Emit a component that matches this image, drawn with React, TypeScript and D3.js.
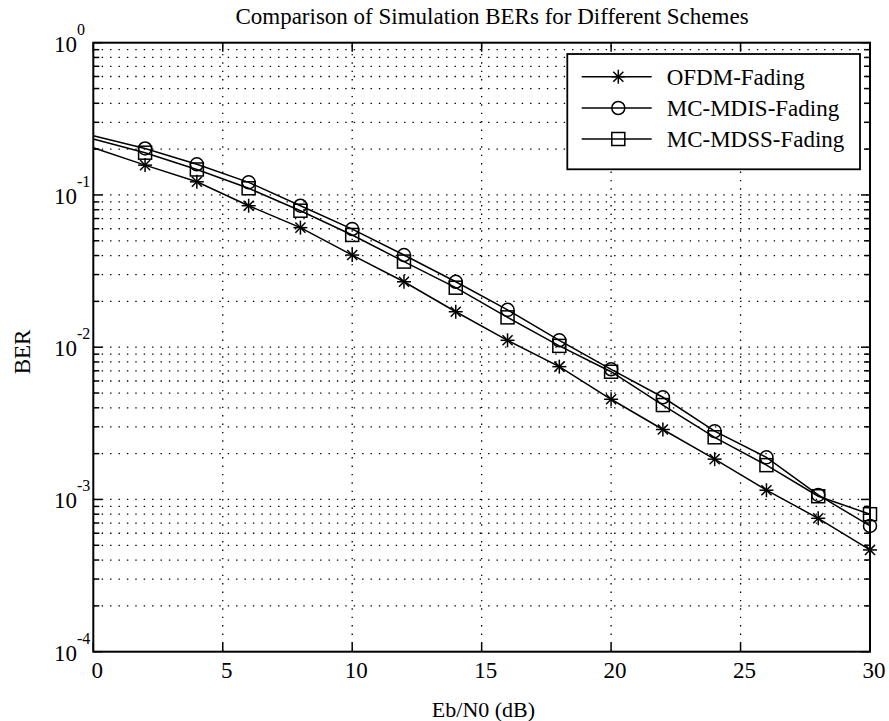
import React from "react";
import * as d3 from "d3";

const snr = [0, 2, 4, 6, 8, 10, 12, 14, 16, 18, 20, 22, 24, 26, 28, 30];
const ofdm = [0.204, 0.157, 0.122, 0.085, 0.061, 0.0403, 0.0269, 0.0171, 0.0111, 0.00745, 0.00455, 0.00288, 0.00184, 0.00115, 0.000752, 0.000466];
const mdis = [0.245, 0.202, 0.159, 0.121, 0.085, 0.0597, 0.0403, 0.0269, 0.0176, 0.0111, 0.00716, 0.00469, 0.00281, 0.00189, 0.00107, 0.00067];
const mdss = [0.233, 0.1895, 0.147, 0.1106, 0.0788, 0.0546, 0.0365, 0.0246, 0.0157, 0.0102, 0.0069, 0.00417, 0.00256, 0.00168, 0.00105, 0.0008];
const seriesNames = ["OFDM-Fading", "MC-MDIS-Fading", "MC-MDSS-Fading"];
const markerTypes = ["star", "circle", "square"];
const xTicks = [0, 5, 10, 15, 20, 25, 30];
const yExponents = [0, -1, -2, -3, -4];
const title = "Comparison of Simulation BERs for Different Schemes";
const xLabel = "Eb/N0 (dB)";
const yLabel = "BER";

const W = 889, H = 721;
const L = 93.3, R = 870, T = 42.7, B = 651.7;
const FONT = "'Liberation Serif', 'Times New Roman', serif";

function Marker({ type, x, y }: { type: string; x: number; y: number }) {
  if (type === "circle") return <circle cx={x} cy={y} r={6.5} fill="none" stroke="#000" strokeWidth={1.5} />;
  if (type === "square") return <rect x={x - 6.5} y={y - 6.5} width={13} height={13} fill="none" stroke="#000" strokeWidth={1.5} />;
  const r = 7;
  const d = r * 0.72;
  return (
    <g stroke="#000" strokeWidth={1.5}>
      <line x1={x} y1={y - r} x2={x} y2={y + r} />
      <line x1={x - r} y1={y} x2={x + r} y2={y} />
      <line x1={x - d} y1={y - d} x2={x + d} y2={y + d} />
      <line x1={x - d} y1={y + d} x2={x + d} y2={y - d} />
    </g>
  );
}

export default function App() {
  const x = d3.scaleLinear().domain([0, 30]).range([L, R]);
  const y = d3.scaleLog().domain([1e-4, 1]).range([B, T]);
  const allSeries = [ofdm, mdis, mdss];
  const line = d3.line<number>().x((_, i) => x(snr[i])).y((v) => y(v));

  const minor: number[] = [];
  for (let e = -4; e < 0; e++) for (let m = 2; m <= 9; m++) minor.push(m * Math.pow(10, e));
  const majors = yExponents.map((e) => Math.pow(10, e));

  const dash = "1.4,7";
  const legendRows = [76.7, 108, 139];

  return (
    <svg width={W} height={H} style={{ position: "absolute", left: 0, top: 0, background: "#fff" }} fontFamily={FONT}>
      <rect x={0} y={0} width={W} height={H} fill="#fff" />
      <g stroke="#000" strokeWidth={1.3} strokeDasharray={dash}>
        {xTicks.slice(1, -1).map((t) => (
          <line key={"gx" + t} x1={x(t)} x2={x(t)} y1={B} y2={T} />
        ))}
        {[...minor, ...majors.slice(1, -1)].map((v, i) => (
          <line key={"gy" + i} x1={L} x2={R} y1={y(v)} y2={y(v)} />
        ))}
      </g>
      <g stroke="#000" strokeWidth={1.5}>
        {xTicks.map((t) => (
          <g key={"tx" + t}>
            <line x1={x(t)} x2={x(t)} y1={B} y2={B - 9} />
            <line x1={x(t)} x2={x(t)} y1={T} y2={T + 9} />
          </g>
        ))}
        {majors.map((v, i) => (
          <g key={"ty" + i}>
            <line x1={L} x2={L + 9} y1={y(v)} y2={y(v)} />
            <line x1={R} x2={R - 9} y1={y(v)} y2={y(v)} />
          </g>
        ))}
        {minor.map((v, i) => (
          <g key={"tm" + i}>
            <line x1={L} x2={L + 6} y1={y(v)} y2={y(v)} />
            <line x1={R} x2={R - 6} y1={y(v)} y2={y(v)} />
          </g>
        ))}
      </g>
      {allSeries.map((s, si) => (
        <g key={"s" + si}>
          <path d={line(s) || ""} fill="none" stroke="#000" strokeWidth={1.5} />
          {s.map((v, i) =>
            i === 0 ? null : <Marker key={i} type={markerTypes[si]} x={x(snr[i])} y={y(v)} />
          )}
        </g>
      ))}
      <rect x={L} y={T} width={R - L} height={B - T} fill="none" stroke="#000" strokeWidth={2} />
      {xTicks.map((t) => (
        <text key={"lx" + t} x={x(t) + 4} y={678} textAnchor="middle" fontSize={23}>
          {t}
        </text>
      ))}
      {yExponents.map((e) => (
        <text key={"ly" + e} x={54} y={y(Math.pow(10, e)) + 9} fontSize={23}>
          10
          <tspan dy={-17} fontSize={16}>{e === 0 ? "0" : "-" + Math.abs(e)}</tspan>
        </text>
      ))}
      <text x={492} y={24} textAnchor="middle" fontSize={23}>{title}</text>
      <text x={483.5} y={717} textAnchor="middle" fontSize={22}>{xLabel}</text>
      <text transform={`translate(30,352) rotate(-90)`} textAnchor="middle" fontSize={23}>{yLabel}</text>
      <rect x={567.3} y={54} width={292.7} height={115.3} fill="#fff" stroke="#000" strokeWidth={1.8} />
      {seriesNames.map((n, i) => (
        <g key={"lg" + i}>
          <line x1={581.7} x2={651.7} y1={legendRows[i]} y2={legendRows[i]} stroke="#000" strokeWidth={1.5} />
          <Marker type={markerTypes[i]} x={618.3} y={legendRows[i]} />
          <text x={666.7} y={legendRows[i] + 8} fontSize={23}>{n}</text>
        </g>
      ))}
    </svg>
  );
}
